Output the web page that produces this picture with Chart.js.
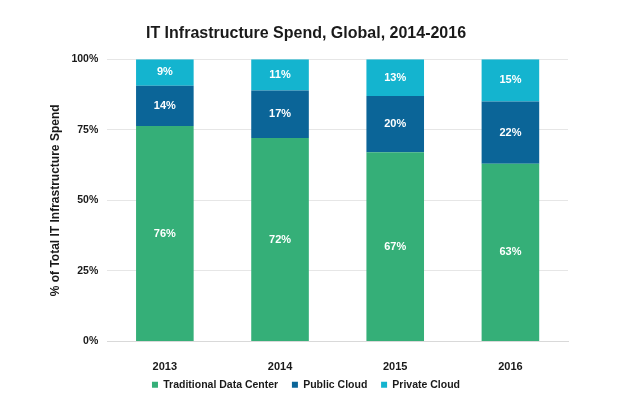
<!DOCTYPE html>
<html>
<head>
<meta charset="utf-8">
<script src="https://cdn.jsdelivr.net/npm/chart.js@4/dist/chart.umd.min.js"></script>
<style>
  html, body { margin: 0; padding: 0; background: #fff; }
  #wrap { width: 625px; height: 399px; }
</style>
</head>
<body>
<div id="wrap"><canvas id="chart" width="625" height="399"></canvas></div>
<script>
const years = ['2013', '2014', '2015', '2016'];
const traditional = [76.3, 72.1, 67.0, 63.0];
const publicCloud = [14.3, 16.8, 20.0, 22.0];
const privateCloud = [9.4, 11.1, 13.0, 15.0];
const yTicks = [0, 25, 50, 75, 100];

const FONT = "'Liberation Sans', Arial, sans-serif";

// draws the % inside each stacked segment
const barLabels = {
  id: 'barLabels',
  afterDatasetsDraw(chart) {
    const ctx = chart.ctx;
    ctx.save();
    ctx.fillStyle = '#ffffff';
    ctx.font = 'bold 11px ' + FONT;
    ctx.textAlign = 'center';
    ctx.textBaseline = 'middle';
    chart.data.datasets.forEach((ds, i) => {
      const meta = chart.getDatasetMeta(i);
      meta.data.forEach((bar, j) => {
        const y = (bar.y + bar.base) / 2;
        ctx.fillText(Math.round(ds.data[j]) + '%', bar.x, y);
      });
    });
    ctx.restore();
  }
};

const ctx = document.getElementById('chart').getContext('2d');
new Chart(ctx, {
  type: 'bar',
  data: {
    labels: years,
    datasets: [
      { label: 'Traditional Data Center', data: traditional, backgroundColor: '#35af78' },
      { label: 'Public Cloud', data: publicCloud, backgroundColor: '#0b6598' },
      { label: 'Private Cloud', data: privateCloud, backgroundColor: '#14b4cf' }
    ]
  },
  options: {
    responsive: false,
    animation: false,
    layout: { padding: { left: 44, right: 57, top: 14, bottom: -1 } },
    datasets: { bar: { categoryPercentage: 1, barPercentage: 0.5 } },
    plugins: {
      title: {
        display: true,
        text: 'IT Infrastructure Spend, Global, 2014-2016',
        color: '#1a1a1a',
        font: { family: FONT, size: 16, weight: 'bold' },
        padding: { top: 10, bottom: 16 }
      },
      legend: {
        position: 'bottom',
        labels: {
          color: '#1a1a1a',
          font: { family: FONT, size: 10.5, weight: 'bold' },
          boxWidth: 6,
          boxHeight: 6,
          padding: 5,
          // a little extra room between the legend entries
          generateLabels: chart => Chart.defaults.plugins.legend.labels.generateLabels(chart)
            .map((item, i, all) => Object.assign(item, { text: i < all.length - 1 ? item.text + '   ' : item.text }))
        }
      },
      tooltip: { enabled: false }
    },
    scales: {
      x: {
        stacked: true,
        grid: { display: false, drawTicks: false },
        border: { color: '#d9d9d9' },
        ticks: { color: '#1a1a1a', font: { family: FONT, size: 11, weight: 'bold' }, padding: 19 },
        afterFit: axis => { axis.height = 33; }
      },
      y: {
        stacked: true,
        min: 0,
        max: 100,
        afterBuildTicks: axis => { axis.ticks = yTicks.map(v => ({ value: v })); },
        grid: { color: '#e6e6e6', drawTicks: false },
        border: { display: false },
        ticks: {
          color: '#1a1a1a',
          padding: 9,
          font: { family: FONT, size: 10.5, weight: 'bold' },
          callback: v => v + '%'
        },
        title: {
          display: true,
          text: '% of Total IT Infrastructure Spend',
          color: '#1a1a1a',
          font: { family: FONT, size: 12, weight: 'bold' },
          padding: { top: 4, bottom: 0 }
        }
      }
    }
  },
  plugins: [barLabels]
});
</script>
</body>
</html>
